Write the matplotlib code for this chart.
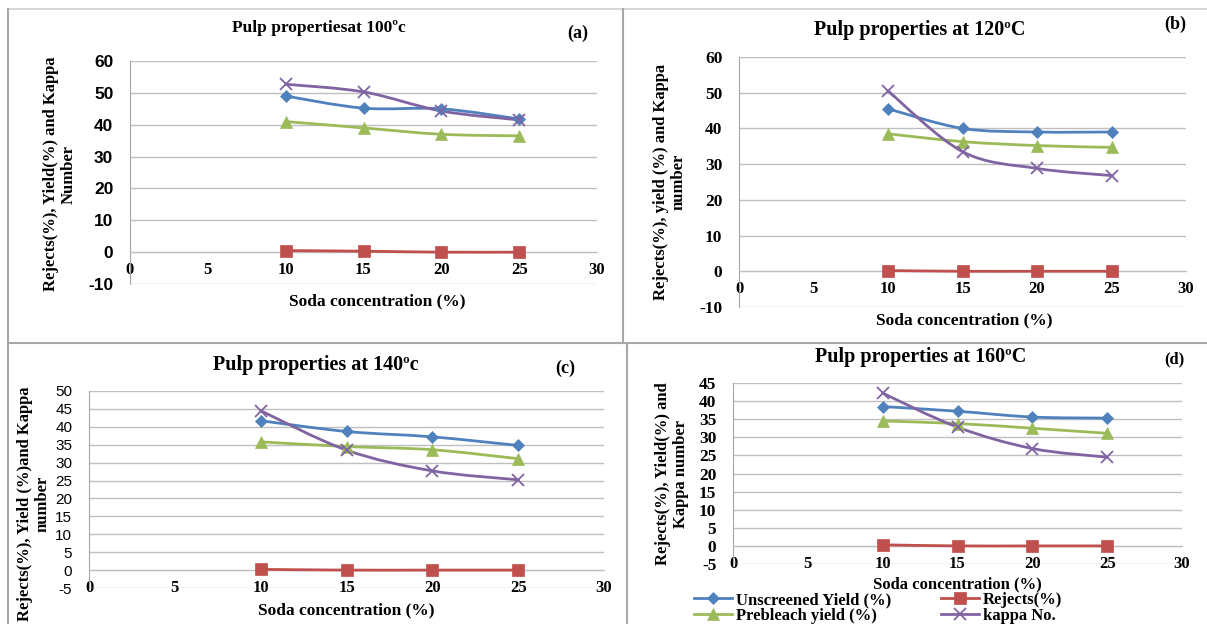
import numpy as np
import matplotlib.pyplot as plt
from matplotlib.path import Path
from matplotlib.patches import PathPatch
from matplotlib.lines import Line2D

plt.rcParams["axes.unicode_minus"] = False

W, H = 1207, 624

soda = [10, 15, 20, 25]
series_names = ["Unscreened Yield (%)", "Rejects(%)", "Prebleach yield (%)", "kappa No."]
colors = ["#4F81BD", "#C0504D", "#9BBB59", "#8064A2"]
markers = ["D", "s", "^", "x"]
msizes = [6.5, 8, 8, 8]

# pulp properties at 100 C
a_unscreened = [49.0, 45.2, 45.0, 41.8]
a_rejects = [0.5, 0.3, 0.0, 0.0]
a_prebleach = [41.0, 39.0, 37.0, 36.5]
a_kappa = [52.7, 50.3, 44.3, 41.5]

# 120 C
b_unscreened = [45.5, 40.0, 39.0, 39.0]
b_rejects = [0.2, 0.0, 0.0, 0.0]
b_prebleach = [38.5, 36.3, 35.2, 34.7]
b_kappa = [50.5, 33.5, 28.8, 26.8]

# 140 C
c_unscreened = [41.7, 38.7, 37.2, 34.8]
c_rejects = [0.2, 0.0, 0.0, 0.0]
c_prebleach = [35.8, 34.5, 33.6, 31.1]
c_kappa = [44.5, 33.5, 27.7, 25.2]

# 160 C
d_unscreened = [38.5, 37.2, 35.6, 35.3]
d_rejects = [0.3, 0.0, 0.0, 0.0]
d_prebleach = [34.5, 33.8, 32.5, 31.1]
d_kappa = [42.2, 32.8, 26.9, 24.5]

SERIF = "Liberation Serif"
SANS = "Liberation Sans"


def smooth_path(x, y):
    # catmull-rom style bezier, like excel's "smoothed line"
    pts = np.column_stack([x, y]).astype(float)
    p = np.vstack([pts[0], pts, pts[-1]])
    verts = [pts[0]]
    codes = [Path.MOVETO]
    for i in range(1, len(p) - 2):
        c1 = p[i] + (p[i + 1] - p[i - 1]) / 6
        c2 = p[i + 1] - (p[i + 2] - p[i]) / 6
        verts += [c1, c2, p[i + 1]]
        codes += [Path.CURVE4] * 3
    return Path(verts, codes)


def px_rect(left, right, top, bottom):
    return [left / W, 1 - bottom / H, (right - left) / W, (bottom - top) / H]


def make_panel(rect, data, ylim, ystep, ytick_font, ytick_size, ytick_bold=True):
    ax = fig.add_axes(rect)
    ax.set_xlim(0, 30)
    ax.set_ylim(*ylim)
    ax.set_xticks(np.arange(0, 31, 5))
    ax.set_yticks(np.arange(ylim[0], ylim[1] + 0.1, ystep))
    ax.yaxis.grid(True, color="#BFBFBF", lw=1.0)
    ax.set_axisbelow(True)
    for s in ["top", "right"]:
        ax.spines[s].set_visible(False)
    ax.spines["bottom"].set_position(("data", 0))
    ax.spines["bottom"].set_color("#BFBFBF")
    ax.spines["left"].set_color("#A6A6A6")
    ax.tick_params(axis="both", length=0)
    ax.tick_params(axis="y", pad=12)
    ax.tick_params(axis="x", pad=7)
    for lab in ax.get_yticklabels():
        lab.set_family(ytick_font)
        lab.set_fontsize(ytick_size)
        lab.set_fontweight("bold" if ytick_bold else "normal")
    for lab in ax.get_xticklabels():
        lab.set_family(SERIF)
        lab.set_fontsize(12)
        lab.set_fontweight("bold")
    for vals, col, mk, ms in zip(data, colors, markers, msizes):
        ax.add_patch(PathPatch(smooth_path(soda, vals), fill=False, edgecolor=col,
                               lw=2.0, capstyle="round", joinstyle="round", zorder=3))
        ax.plot(soda, vals, ls="none", marker=mk, ms=ms, color=col,
                mew=1.3 if mk == "x" else 0.5, zorder=4, clip_on=False)
    return ax


fig = plt.figure(figsize=(W / 100, H / 100), dpi=100)

make_panel(px_rect(130, 597, 61, 284), [a_unscreened, a_rejects, a_prebleach, a_kappa],
           (-10, 60), 10, SANS, 12.5)
make_panel(px_rect(739, 1186, 57, 307), [b_unscreened, b_rejects, b_prebleach, b_kappa],
           (-10, 60), 10, SERIF, 12.5)
make_panel(px_rect(89, 604, 391, 588), [c_unscreened, c_rejects, c_prebleach, c_kappa],
           (-5, 50), 5, SANS, 11, ytick_bold=False)
make_panel(px_rect(733, 1182, 383, 564), [d_unscreened, d_rejects, d_prebleach, d_kappa],
           (-5, 45), 5, SERIF, 12.5)


def ftext(x, y, s, **kw):
    kw.setdefault("ha", "center")
    kw.setdefault("va", "center")
    kw.setdefault("family", SERIF)
    kw.setdefault("weight", "bold")
    fig.text(x / W, 1 - y / H, s, **kw)


# titles and panel letters
ftext(319, 28, "Pulp propertiesat 100ºc", fontsize=12.5)
ftext(578, 33, "(a)", fontsize=13)
ftext(920, 30, "Pulp properties at 120ºC", fontsize=14.5)
ftext(1175, 24, "(b)", fontsize=13)
ftext(316, 365, "Pulp properties at 140ºc", fontsize=14.5)
ftext(565, 368, "(c)", fontsize=13)
ftext(921, 357, "Pulp properties at 160ºC", fontsize=14.5)
ftext(1174, 359, "(d)", fontsize=12)

# axis titles
ftext(377, 301, "Soda concentration (%)", fontsize=12.5)
ftext(964, 320, "Soda concentration (%)", fontsize=12.5)
ftext(346, 610, "Soda concentration (%)", fontsize=12.5)
ftext(957, 584, "Soda concentration (%)", fontsize=12)

ftext(60, 174, "Rejects(%), Yield(%) and Kappa\nNumber", fontsize=12, rotation=90,
      linespacing=1.15, multialignment="center")
ftext(670, 182, "Rejects(%), yield (%) and Kappa\nnumber", fontsize=12, rotation=90,
      linespacing=1.15, multialignment="center")
ftext(34, 504, "Rejects(%), Yield (%)and Kappa\nnumber", fontsize=12, rotation=90,
      linespacing=1.15, multialignment="center")
ftext(672, 474, "Rejects(%), Yield(%) and\nKappa number", fontsize=12, rotation=90,
      linespacing=1.15, multialignment="center")

# legend (under panel d)
handles = [Line2D([], [], color=c, marker=m, ms=ms, lw=2.0, mew=1.3 if m == "x" else 0.5)
           for c, m, ms in zip(colors, markers, msizes)]
order = [0, 2, 1, 3]
fig.legend([handles[i] for i in order], [series_names[i] for i in order], ncol=2,
           loc="lower left", bbox_to_anchor=(694 / W, 0.0), frameon=False,
           prop={"family": SERIF, "weight": "bold", "size": 12},
           handlelength=2.3, handletextpad=0.2, labelspacing=0.0, columnspacing=3.0,
           borderpad=0, borderaxespad=0)

# panel borders
border = dict(color="#A8A8A8", lw=1.5, transform=fig.transFigure, clip_on=False)
fig.add_artist(Line2D([8 / W, 1], [1 - 9 / H, 1 - 9 / H], color="#CFCFCF", lw=1.2,
                      transform=fig.transFigure))
fig.add_artist(Line2D([8 / W, 8 / W], [1 - 9 / H, 0], **border))
fig.add_artist(Line2D([8 / W, 1], [1 - 343 / H, 1 - 343 / H], **border))
fig.add_artist(Line2D([623 / W, 623 / W], [1 - 9 / H, 1 - 343 / H], **border))
fig.add_artist(Line2D([627 / W, 627 / W], [1 - 345 / H, 0], **border))

fig.savefig("out.png", dpi=100)
